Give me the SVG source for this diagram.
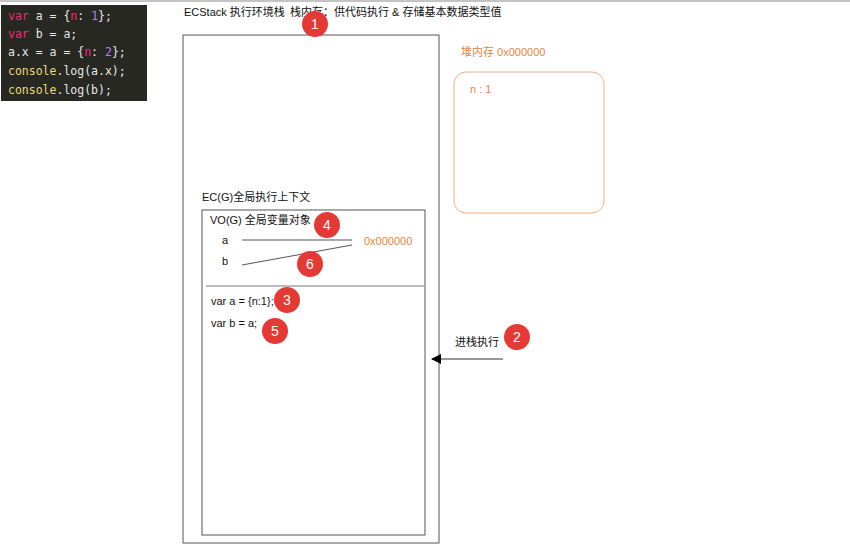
<svg xmlns="http://www.w3.org/2000/svg" width="850" height="558" viewBox="0 0 850 558">
<style>
.t{font-family:"Liberation Sans","Noto Sans CJK SC",sans-serif;font-size:11px;fill:#111}
.o{fill:#e8833a}
.code{font-family:"DejaVu Sans Mono","Liberation Mono",monospace;font-size:11.5px;fill:#e6e6e6}
.badge circle{fill:#e53935}
.badge text{font-family:"Liberation Sans",sans-serif;font-size:14px;fill:#fff;text-anchor:middle}
.box{fill:none;stroke:#555;stroke-width:1}
</style>
<defs><marker id="ar" markerWidth="10" markerHeight="10" refX="9" refY="5" orient="auto" markerUnits="userSpaceOnUse"><path d="M0,0 L10,5 L0,10 z" fill="#000"/></marker></defs>
<rect width="850" height="558" fill="#fff"/>
<line x1="0" y1="1" x2="850" y2="1" stroke="#888"/>
<g id="code">
<rect x="1" y="5" width="146" height="96" fill="#272822"/>
<text class="code" x="8" y="20"><tspan fill="#f92672">var</tspan> a = {<tspan fill="#f92672">n</tspan>: <tspan fill="#ae81ff">1</tspan>};</text>
<text class="code" x="8" y="38"><tspan fill="#f92672">var</tspan> b = a;</text>
<text class="code" x="8" y="56">a.x = a = {<tspan fill="#f92672">n</tspan>: <tspan fill="#ae81ff">2</tspan>};</text>
<text class="code" x="8" y="75"><tspan fill="#e6db74">console</tspan>.log(a.x);</text>
<text class="code" x="8" y="94"><tspan fill="#e6db74">console</tspan>.log(b);</text>
</g>
<text class="t" x="184" y="16">ECStack 执行环境栈</text>
<text class="t" x="290" y="16">栈内存：供代码执行 &amp; 存储基本数据类型值</text>
<g id="ecstack"><rect class="box" x="183" y="35" width="256" height="508"/></g>
<g id="heap">
<text class="t o" x="461" y="56">堆内存 0x000000</text>
<rect x="454" y="72" width="150" height="141" rx="12" fill="none" stroke="#f0b080"/>
<text class="t o" x="470" y="93" font-size="10">n : 1</text>
</g>
<g id="ecg">
<text class="t" x="202" y="201">EC(G)全局执行上下文</text>
<rect class="box" x="202" y="210" width="223" height="325"/>
<line x1="206" y1="286" x2="424" y2="286" stroke="#777"/>
<text class="t" x="210" y="224">VO(G) 全局变量对象</text>
<text class="t" x="222" y="244">a</text>
<text class="t" x="222" y="265">b</text>
<text class="t o" x="364" y="245">0x000000</text>
<text class="t" x="211" y="305">var a = {n:1};</text>
<text class="t" x="211" y="327">var b = a;</text>
</g>
<g id="connectors">
<line x1="242" y1="240" x2="352" y2="240" stroke="#555"/>
<line x1="242" y1="265" x2="352" y2="245" stroke="#555"/>
<line x1="503" y1="359" x2="432" y2="359" stroke="#333" marker-end="url(#ar)"/>
</g>
<text class="t" x="455" y="346">进栈执行</text>
<g class="badge" id="b1"><circle cx="315" cy="24" r="13"/><text x="315" y="29">1</text></g>
<g class="badge" id="b2"><circle cx="517" cy="337" r="13"/><text x="517" y="342">2</text></g>
<g class="badge" id="b3"><circle cx="287" cy="300" r="13"/><text x="287" y="305">3</text></g>
<g class="badge" id="b4"><circle cx="327" cy="225" r="13"/><text x="327" y="230">4</text></g>
<g class="badge" id="b5"><circle cx="275" cy="331" r="13"/><text x="275" y="336">5</text></g>
<g class="badge" id="b6"><circle cx="310" cy="264" r="13"/><text x="310" y="269">6</text></g>
</svg>
